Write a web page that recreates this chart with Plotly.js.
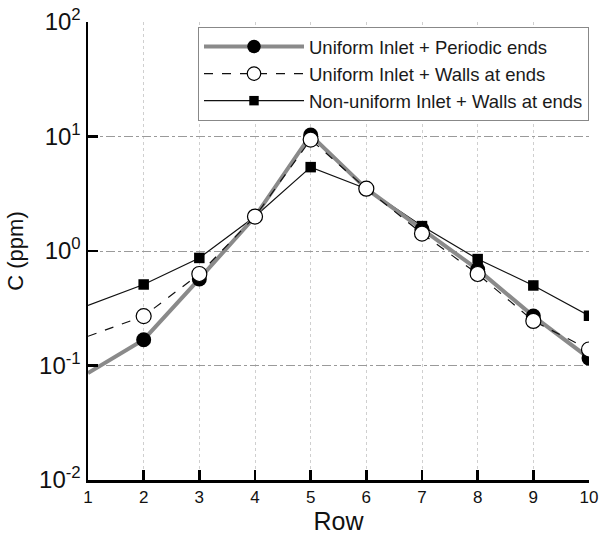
<!DOCTYPE html>
<html>
<head>
<meta charset="utf-8">
<script src="https://cdn.plot.ly/plotly-3.0.1.min.js"></script>
<style>html,body{margin:0;padding:0;background:#fff;}#chart{width:601px;height:537px;}</style>
</head>
<body>
<div id="chart"></div>
<script>
var rows = [1, 2, 3, 4, 5, 6, 7, 8, 9, 10];
var uniformPeriodic = [0.086, 0.168, 0.57, 2.0, 10.3, 3.5, 1.55, 0.69, 0.27, 0.116];
var uniformWalls = [0.18, 0.27, 0.63, 2.0, 9.4, 3.5, 1.42, 0.63, 0.245, 0.138];
var nonuniformWalls = [0.335, 0.51, 0.87, 2.0, 5.4, 3.5, 1.65, 0.85, 0.5, 0.272];
var seriesNames = ['Uniform Inlet + Periodic ends', 'Uniform Inlet + Walls at ends', 'Non-uniform Inlet + Walls at ends'];
var yTickVals = [0.01, 0.1, 1, 10, 100];
var yTickText = ['10<sup>-2</sup>', '10<sup>-1</sup>', '10<sup>0</sup>', '10<sup>1</sup>', '10<sup>2</sup>'];
var xTickVals = rows;

// minor log ticks (2..9 within each decade)
var yMinorVals = [];
yTickVals.slice(0, 4).forEach(function (d) {
  for (var k = 2; k <= 9; k++) yMinorVals.push(d * k);
});

// no marker drawn at the first row in the reference
function sizes(s) { return rows.map(function (r, i) { return i === 0 ? 0 : s; }); }

var traces = [
  {
    x: rows, y: nonuniformWalls, name: seriesNames[2], legendrank: 3,
    mode: 'lines+markers', type: 'scatter',
    line: {color: '#111', width: 1.2},
    marker: {symbol: 'square', size: sizes(10.5), opacity: 1, color: '#000', line: {width: 0}}
  },
  {
    x: rows, y: uniformPeriodic, name: seriesNames[0], legendrank: 1,
    mode: 'lines+markers', type: 'scatter',
    line: {color: '#8a8a8a', width: 4},
    marker: {symbol: 'circle', size: sizes(15), opacity: 1, color: '#000', line: {width: 0}}
  },
  {
    x: rows, y: uniformWalls, name: seriesNames[1], legendrank: 2,
    mode: 'lines+markers', type: 'scatter',
    line: {color: '#111', width: 1.2, dash: 'dash'},
    marker: {symbol: 'circle', size: sizes(15), opacity: 1, color: '#fff', line: {width: 1.2, color: '#000'}}
  }
];

var layout = {
  width: 601, height: 537,
  margin: {l: 88, r: 12, t: 22, b: 57},
  paper_bgcolor: '#fff', plot_bgcolor: '#fff',
  font: {family: 'Liberation Sans, Arial, sans-serif', color: '#111'},
  showlegend: true,
  legend: {
    x: 1, xanchor: 'right', y: 0.989, yanchor: 'top',
    bgcolor: '#fff', bordercolor: '#888', borderwidth: 1,
    font: {size: 18.5, color: '#1a1a1a'},
    itemwidth: 100,
    tracegroupgap: 0
  },
  xaxis: {
    range: [1, 10], tickvals: xTickVals, ticktext: xTickVals.map(String),
    ticks: 'inside', ticklen: 10, tickwidth: 2.5, tickcolor: '#000',
    showline: true, linecolor: '#000', linewidth: 2.5, mirror: false,
    showgrid: true, gridcolor: '#cfcfcf', griddash: 'dot', gridwidth: 1,
    zeroline: false, layer: 'above traces',
    tickfont: {size: 17, color: '#111'},
    title: {text: 'Row', font: {size: 25, color: '#111'}, standoff: 6}
  },
  yaxis: {
    type: 'log', range: [-2, 2],
    tickvals: yTickVals, ticktext: yTickText,
    ticks: 'inside', ticklen: 10, tickwidth: 2.5, tickcolor: '#000',
    showline: true, linecolor: '#000', linewidth: 2.5, mirror: false,
    showgrid: true, gridcolor: '#9a9a9a', griddash: 'dashdot', gridwidth: 1,
    zeroline: false, layer: 'above traces',
    tickfont: {size: 24, color: '#111'},
    title: {text: 'C (ppm)', font: {size: 22, color: '#111'}, standoff: 10}
  },
  yaxis2: {
    type: 'log', range: [-2, 2], overlaying: 'y', side: 'left', anchor: 'x',
    tickvals: yMinorVals, ticktext: yMinorVals.map(function () { return ''; }),
    ticks: 'inside', ticklen: 7, tickwidth: 1.5, tickcolor: '#333',
    showline: false, showgrid: false, zeroline: false, showticklabels: false
  }
};

Plotly.newPlot('chart', traces, layout, {staticPlot: true, displayModeBar: false});
</script>
</body>
</html>
